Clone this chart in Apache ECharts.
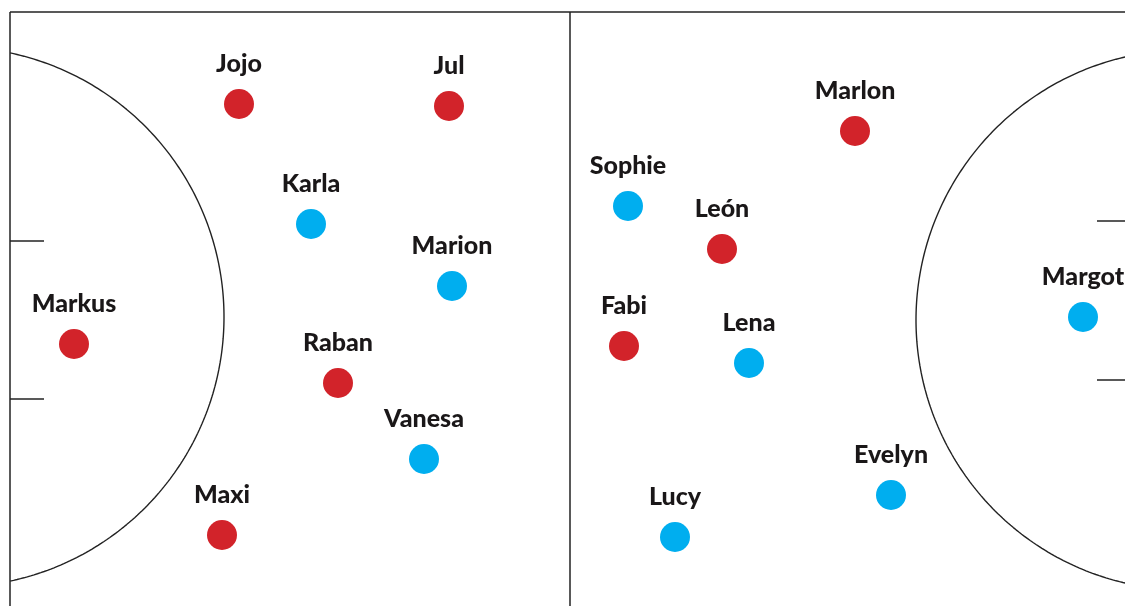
<!DOCTYPE html>
<html>
<head>
<meta charset="utf-8">
<script src="https://cdn.jsdelivr.net/npm/echarts@6/dist/echarts.min.js"></script>
<style>
html,body{margin:0;padding:0;background:#fff;}
#chart{width:1125px;height:606px;}
</style>
</head>
<body>
<div id="chart"></div>
<script>
// Players: [name, x, y] in field units (0..1125 wide, 0..606 tall, y downward)
const redNames = ['Jojo', 'Jul', 'Markus', 'Raban', 'Maxi', 'Marlon', 'León', 'Fabi'];
const redX = [239, 449, 74, 338, 222, 855, 722, 624];
const redY = [104, 106, 344, 383, 535, 131, 249, 346];

const blueNames = ['Karla', 'Marion', 'Vanesa', 'Sophie', 'Lena', 'Lucy', 'Evelyn', 'Margot'];
const blueX = [311, 452, 424, 628, 749, 675, 891, 1083];
const blueY = [224, 286, 459, 206, 363, 537, 495, 317];

// Field markings (field units)
const fieldLines = [
  [[10, 12], [1125, 12]],
  [[10, 12], [10, 606]],
  [[570, 12], [570, 606]],
  [[10, 241], [44, 241]],
  [[10, 399], [44, 399]],
  [[1097, 221], [1125, 221]],
  [[1097, 380], [1125, 380]]
];
const leftCircle = {cx: -46, cy: 317, r: 270};
const rightCircle = {cx: 1186, cy: 320, r: 270};

function arcPoints(c, side) {
  const pts = [];
  for (let i = 0; i <= 240; i++) {
    const t = -Math.PI / 2 + Math.PI * i / 240;
    const x = c.cx + side * c.r * Math.cos(t);
    const y = c.cy + c.r * Math.sin(t);
    pts.push([x, y]);
  }
  return pts;
}

function toData(names, xs, ys) {
  return names.map((n, i) => ({name: n, value: [xs[i], ys[i]]}));
}

const labelStyle = {
  show: true,
  position: 'top',
  distance: 13,
  formatter: '{b}',
  color: '#1a1718',
  fontFamily: 'Lato',
  fontWeight: 900,
  fontSize: 25
};

const chart = echarts.init(document.getElementById('chart'), null, {renderer: 'canvas'});
chart.setOption({
  animation: false,
  backgroundColor: '#ffffff',
  grid: {left: 0, right: 0, top: 0, bottom: 0},
  xAxis: {type: 'value', min: 0, max: 1125, show: false},
  yAxis: {type: 'value', min: 0, max: 606, inverse: true, show: false},
  series: [
    {
      type: 'lines',
      coordinateSystem: 'cartesian2d',
      silent: true,
      lineStyle: {color: '#222', width: 1.5, opacity: 1},
      data: fieldLines.map(c => ({coords: c}))
    },
    {
      type: 'line',
      silent: true,
      showSymbol: false,
      clip: true,
      lineStyle: {color: '#222', width: 1.4},
      data: arcPoints(leftCircle, 1).filter(p => p[0] >= 10)
    },
    {
      type: 'line',
      silent: true,
      showSymbol: false,
      clip: true,
      lineStyle: {color: '#222', width: 1.4},
      data: arcPoints(rightCircle, -1)
    },
    {
      type: 'scatter',
      symbolSize: 30,
      itemStyle: {color: '#d2232a', opacity: 1},
      label: labelStyle,
      data: toData(redNames, redX, redY)
    },
    {
      type: 'scatter',
      symbolSize: 30,
      itemStyle: {color: '#00aeef', opacity: 1},
      label: labelStyle,
      data: toData(blueNames, blueX, blueY)
    }
  ]
});
</script>
</body>
</html>
